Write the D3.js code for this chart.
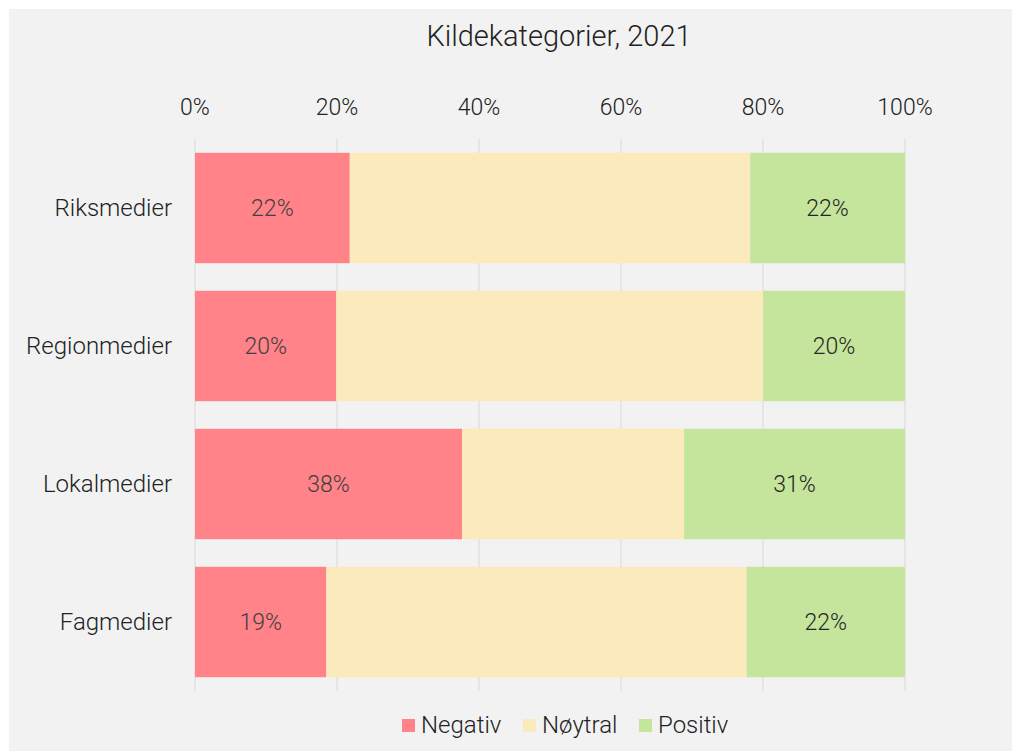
<html>
<head>
    <meta charset="utf-8">
    <title>Kildekategorier</title>
    <script src='https://d3js.org/d3.v7.min.js'></script>
    <style>
        body { margin: 0; background: #fff; }
        text { font-family: Roboto, sans-serif; font-weight: 300; }
    </style>
</head>
<body>
    <svg id="chart"></svg>
    <script>
        var categories = ["Riksmedier", "Regionmedier", "Lokalmedier", "Fagmedier"];
        var series = ["Negativ", "Nøytral", "Positiv"];
        var negativ = [21.8, 19.9, 37.6, 18.5];
        var noytral = [56.4, 60.1, 31.3, 59.2];
        var positiv = [21.8, 20.0, 31.1, 22.3];
        var ticks = [0, 20, 40, 60, 80, 100];
        var colors = ["#ff8389", "#fbeabb", "#c5e49c"];

        var W = 1012, H = 751;
        var pLeft = 195, pRight = 905, pTop = 139, pBottom = 691;

        var svg = d3.select("#chart").attr("width", W).attr("height", H);
        svg.append("rect").attr("x", 9).attr("y", 9).attr("width", W - 9).attr("height", H - 9).attr("fill", "#f2f2f2");

        var x = d3.scaleLinear().domain([0, 100]).range([pLeft, pRight]);
        var y = d3.scaleBand().domain(categories).range([pTop, pBottom]).paddingInner(0.2).paddingOuter(0.1);

        var rows = categories.map(function (c, i) {
            return { cat: c, Negativ: negativ[i], "Nøytral": noytral[i], Positiv: positiv[i] };
        });
        var stacked = d3.stack().keys(series)(rows);

        // gridlines
        svg.append("g").selectAll("line").data(ticks).enter().append("line")
            .attr("x1", function (d) { return x(d); }).attr("x2", function (d) { return x(d); })
            .attr("y1", pTop).attr("y2", pBottom)
            .attr("stroke", "#d9d9d9").attr("stroke-width", 1);

        // tick labels
        svg.append("g").selectAll("text").data(ticks).enter().append("text")
            .attr("x", function (d) { return x(d); }).attr("y", 115)
            .attr("text-anchor", "middle").attr("font-size", 23).attr("fill", "#222")
            .text(function (d) { return d + "%"; });

        // bars
        var layer = svg.append("g").selectAll("g").data(stacked).enter().append("g")
            .attr("fill", function (d, i) { return colors[i]; });
        layer.selectAll("rect").data(function (d) { return d; }).enter().append("rect")
            .attr("x", function (d) { return x(d[0]); })
            .attr("y", function (d) { return y(d.data.cat); })
            .attr("width", function (d) { return x(d[1]) - x(d[0]); })
            .attr("height", y.bandwidth());

        // value labels (negativ and positiv only)
        stacked.forEach(function (s, i) {
            if (s.key == "Nøytral") return;
            svg.append("g").selectAll("text").data(s).enter().append("text")
                .attr("x", function (d) { return (x(d[0]) + x(d[1])) / 2; })
                .attr("y", function (d) { return y(d.data.cat) + y.bandwidth() / 2; })
                .attr("dy", "0.35em").attr("text-anchor", "middle")
                .attr("font-size", 23).attr("fill", i == 0 ? "#404040" : "#262626")
                .text(function (d) { return Math.round(d[1] - d[0]) + "%"; });
        });

        // category labels
        svg.append("g").selectAll("text").data(categories).enter().append("text")
            .attr("x", 172).attr("y", function (d) { return y(d) + y.bandwidth() / 2; })
            .attr("dy", "0.35em").attr("text-anchor", "end")
            .attr("font-size", 24).attr("fill", "#222")
            .text(function (d) { return d; });

        // title
        svg.append("text").attr("x", 559).attr("y", 46).attr("text-anchor", "middle")
            .attr("font-size", 29).attr("fill", "#222").text("Kildekategorier, 2021");

        // legend
        var legX = [402, 523, 639];
        var leg = svg.append("g").selectAll("g").data(series).enter().append("g")
            .attr("transform", function (d, i) { return "translate(" + legX[i] + ",719)"; });
        leg.append("rect").attr("width", 13).attr("height", 13).attr("fill", function (d, i) { return colors[i]; });
        leg.append("text").attr("x", 19).attr("y", 14).attr("font-size", 24).attr("fill", "#222")
            .text(function (d) { return d; });
    </script>
</body>
</html>
